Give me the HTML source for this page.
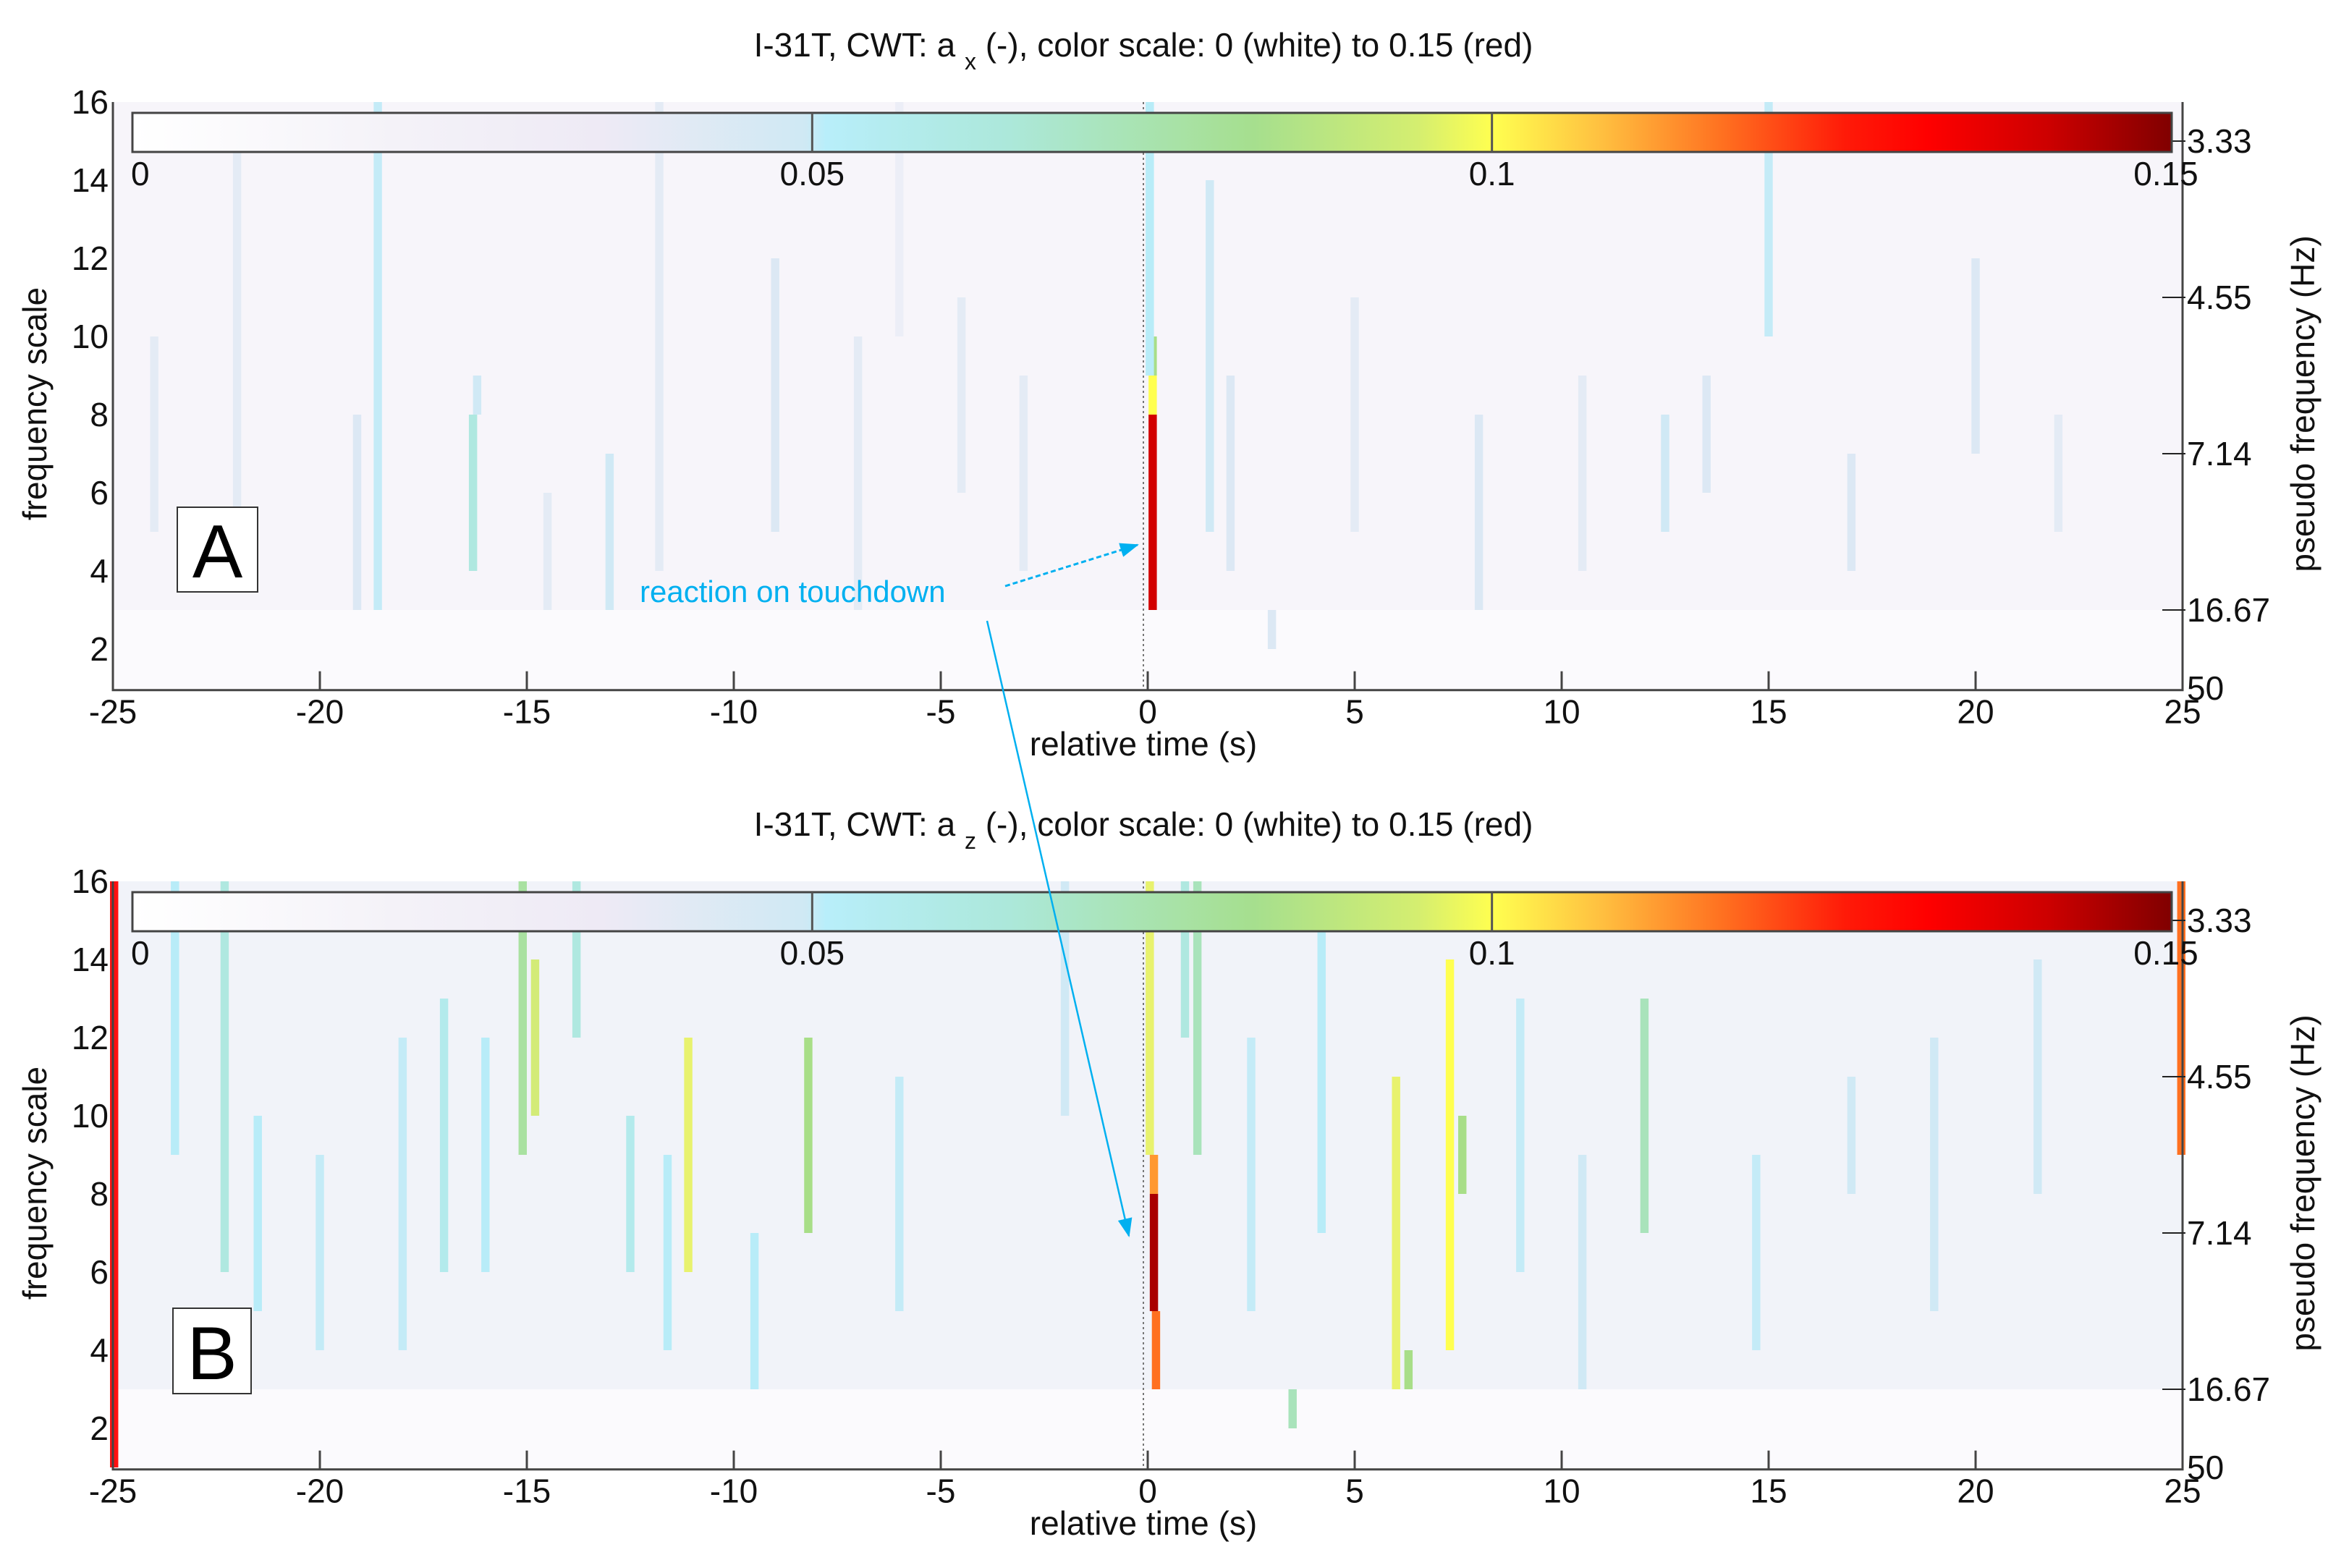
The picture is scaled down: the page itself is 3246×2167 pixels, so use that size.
<!DOCTYPE html>
<html><head><meta charset="utf-8"><style>
html,body{margin:0;padding:0;background:#fff;}
svg{display:block;font-family:"Liberation Sans",sans-serif;}
</style></head><body>
<svg id="fig" width="3246" height="2167" viewBox="0 0 3246 2167" xmlns="http://www.w3.org/2000/svg">
<defs>
<linearGradient id="cbar" x1="0" x2="1" y1="0" y2="0">
<stop offset="0" stop-color="#ffffff"/><stop offset="0.13" stop-color="#f4f2f8"/><stop offset="0.23" stop-color="#eeeaf5"/><stop offset="0.33" stop-color="#cfe9f4"/><stop offset="0.34" stop-color="#b8eefa"/><stop offset="0.43" stop-color="#ace8da"/><stop offset="0.55" stop-color="#a6df8e"/><stop offset="0.63" stop-color="#d4ee70"/><stop offset="0.667" stop-color="#ffff50"/><stop offset="0.72" stop-color="#ffc040"/><stop offset="0.78" stop-color="#ff7020"/><stop offset="0.84" stop-color="#ff1a08"/><stop offset="0.88" stop-color="#ff0000"/><stop offset="0.94" stop-color="#cc0000"/><stop offset="1" stop-color="#800000"/>
</linearGradient>
<marker id="arr" markerWidth="26" markerHeight="20" refX="24" refY="10" orient="auto" markerUnits="userSpaceOnUse" viewBox="0 0 26 20"><path d="M0,0 L26,10 L0,20 z" fill="#00b0f0"/></marker>
</defs>
</svg>
<script>
// ---- data ----
const xTicks = [-25,-20,-15,-10,-5,0,5,10,15,20,25];
const yTicks = [2,4,6,8,10,12,14,16];
const freqTickPos = [15,11,7,3,1];
const freqTickLabels = ["3.33","4.55","7.14","16.67","50"];
const cbarTicks = [0,0.05,0.1,0.15];
const cbarTickLabels = ["0","0.05","0.1","0.15"];
const titles = ["I-31T, CWT: a","I-31T, CWT: a"];
const subs = ["x","z"];
// streaks: time (s), lower scale, upper scale, value
const aTime = [-18.6,-22,-16.3,-16.2,-19.1,-13,-11.8,-9,-7,-3,0.12,0.12,0.12,0.05,2,5,8,12.5,15,17,20,22,-24,-14.5,-4.5,10.5,3,-6,1.5,13.5];
const aLow  = [3,4,4,8,3,3,4,5,3,4,3,8,9,9,4,5,3,5,10,4,7,5,5,3,6,4,2,10,5,6];
const aHigh = [16,15,8,9,8,7,16,12,10,9,8,9,10,16,9,11,8,8,16,7,12,8,10,6,11,9,3,16,14,9];
const aVal  = [0.045,0.03,0.06,0.04,0.035,0.04,0.03,0.035,0.03,0.03,0.14,0.1,0.08,0.05,0.035,0.03,0.035,0.04,0.045,0.035,0.035,0.03,0.03,0.03,0.03,0.03,0.035,0.025,0.04,0.035];
const bTime = [-24.97,24.97,-22.3,-21.5,-18,-17,-15.1,-14.8,-13.8,-11.1,-11.6,-8.2,-9.5,-6,0.15,0.15,0.05,0.2,1.2,2.5,3.5,6,6.3,7.3,7.6,9,12,14.7,17,19,21.5,-2,4.2,10.5,-20,-12.5,-23.5,0.9,-16];
const bLow  = [1,9,6,5,4,6,9,10,12,6,4,7,3,5,5,8,9,3,9,5,2,3,3,4,8,6,7,4,8,5,8,10,7,3,4,6,9,12,6];
const bHigh = [16,16,16,10,12,13,16,14,16,12,9,12,7,11,8,9,16,5,16,12,3,11,4,14,10,13,13,9,11,12,14,16,15,9,9,10,16,16,12];
const bVal  = [0.13,0.12,0.06,0.05,0.045,0.055,0.075,0.09,0.06,0.095,0.05,0.08,0.05,0.045,0.145,0.115,0.095,0.12,0.07,0.045,0.07,0.095,0.08,0.1,0.08,0.045,0.07,0.045,0.04,0.04,0.04,0.04,0.05,0.04,0.045,0.055,0.05,0.06,0.05];

// ---- layout ----
const NS="http://www.w3.org/2000/svg";
const svg=document.getElementById('fig');
const L=156,R=3016,TOP=141,UNIT=54,YMAX=16,YMIN=0.95;
const CELL=0.2;
function xs(t){return L+(t+25)/50*(R-L);}
function ys(v,off){return off+TOP+(YMAX-v)*UNIT;}
const stops=[[0,[255,255,255]],[0.02,[244,241,248]],[0.035,[220,232,244]],[0.05,[184,236,248]],[0.065,[170,230,212]],[0.08,[168,222,136]],[0.095,[232,242,110]],[0.1,[255,255,80]],[0.11,[255,192,64]],[0.12,[255,112,32]],[0.13,[255,16,16]],[0.14,[210,0,0]],[0.15,[128,0,0]]];
function cmap(v){v=Math.max(0,Math.min(0.15,v));for(let i=1;i<stops.length;i++){if(v<=stops[i][0]){const a=stops[i-1],b=stops[i];const f=(v-a[0])/(b[0]-a[0]);const c=a[1].map((x,k)=>Math.round(x+(b[1][k]-x)*f));return `rgb(${c[0]},${c[1]},${c[2]})`;}}return 'rgb(128,0,0)';}
function el(tag,attrs,parent){const e=document.createElementNS(NS,tag);for(const k in attrs)e.setAttribute(k,attrs[k]);(parent||svg).appendChild(e);return e;}
function txt(s,attrs,parent){const e=el('text',attrs,parent);e.textContent=s;return e;}

function panel(idx,off,times,lows,highs,vals,bg,letter,box){
  const g=el('g',{});
  
  
  const bottom=ys(YMIN,off), top=ys(YMAX,off);
  const bgr=el('rect',{x:L,y:top,width:R-L,height:bottom-top,fill:bg},g);
  
  
  const low=el('rect',{x:L,y:ys(3,off),width:R-L,height:bottom-ys(3,off),fill:'#fbfafd'},g);
  
  
  for(let i=0;i<times.length;i++){
    const x0=xs(times[i]-CELL/2),x1=xs(times[i]+CELL/2);
    const r=el('rect',{x:x0,y:ys(highs[i],off),width:x1-x0,height:ys(lows[i],off)-ys(highs[i],off),fill:cmap(vals[i])},g);
    
    
  }
  const zl=el('line',{x1:xs(0)-6,x2:xs(0)-6,y1:top,y2:bottom,stroke:'#777','stroke-width':2,'stroke-dasharray':'3,4'},g);
  
  
  const ax=el('path',{d:`M${L},${top} L${L},${bottom} L${R},${bottom} L${R},${top}`,fill:'none',stroke:'#444','stroke-width':3},g);
  
  
  xTicks.forEach(t=>{
    const x=xs(t);
    const tk=el('line',{x1:x,x2:x,y1:bottom,y2:bottom-26,stroke:'#444','stroke-width':3},g);
    
    
    const lb=txt(String(t),{x:x,y:bottom+46,'font-size':46,'text-anchor':'middle',fill:'#111'},g);
    
    
  });
  yTicks.forEach(v=>{
    const lb=txt(String(v),{x:L-6,y:ys(v,off)+16,'font-size':46,'text-anchor':'end',fill:'#111'},g);
    
    
  });
  freqTickPos.forEach((v,i)=>{
    const y=ys(v,off);
    if(i<freqTickPos.length-1){
      const tk=el('line',{x1:R-28,x2:R+4,y1:y,y2:y,stroke:'#222','stroke-width':2},g);
      
      
    }
    const lb=txt(freqTickLabels[i],{x:R+6,y:y+16,'font-size':46,fill:'#111'},g);
    
    
  });
  const cx0=183,cx1=3001,cy=off+156,ch=54;
  const cb=el('rect',{x:cx0,y:cy,width:cx1-cx0,height:ch,fill:'url(#cbar)',stroke:'#444','stroke-width':3},g);
  
  
  cbarTicks.forEach((v,i)=>{
    const x=cx0+v/0.15*(cx1-cx0);
    if(i>0&&i<cbarTicks.length-1){
      const d=el('line',{x1:x,x2:x,y1:cy,y2:cy+ch,stroke:'#555','stroke-width':3},g);
      
      
    }
    const lb=txt(cbarTickLabels[i],{x:i===0?x-2:(i===cbarTicks.length-1?x-8:x),y:cy+ch+46,'font-size':46,'text-anchor':i===0?'start':'middle',fill:'#111'},g);
    
    
  });
  const t=txt('',{x:1580,y:off+78,'font-size':46,'text-anchor':'middle',fill:'#111'},g);
  
  
  const t1=el('tspan',{},t);t1.textContent=titles[idx]+' ';
  const t2=el('tspan',{dy:18,'font-size':32},t);t2.textContent=subs[idx];
  const t3=el('tspan',{dy:-18},t);t3.textContent=' (-), color scale: 0 (white) to 0.15 (red)';
  const xl=txt('relative time (s)',{x:1580,y:off+1044,'font-size':46,'text-anchor':'middle',fill:'#111'},g);
  
  
  const yl=txt('frequency scale',{x:0,y:0,'font-size':46,'text-anchor':'middle',fill:'#111',transform:`translate(64,${off+558}) rotate(-90)`},g);
  
  
  const yr=txt('pseudo frequency (Hz)',{x:0,y:0,'font-size':46,'text-anchor':'middle',fill:'#111',transform:`translate(3198,${off+558}) rotate(-90)`},g);
  
  
  const bx=el('rect',{x:box[0],y:box[1],width:box[2],height:box[3],fill:'#fff',stroke:'#333','stroke-width':2},g);
  
  
  const lt=txt(letter,{x:box[0]+box[2]/2,y:box[1]+box[3]-20,'font-size':104,'text-anchor':'middle',fill:'#000'},g);
  
  
}
panel(0,0,aTime,aLow,aHigh,aVal,'#f7f5fa','A',[245,701,111,117]);
panel(1,1077,bTime,bLow,bHigh,bVal,'#f1f3f9','B',[239,1808,108,118]);

const an=txt('reaction on touchdown',{x:884,y:832,'font-size':42,fill:'#00b0f0'});


const a1=el('line',{x1:1389,y1:810,x2:1572,y2:753,stroke:'#00b0f0','stroke-width':3,'stroke-dasharray':'7,4','marker-end':'url(#arr)'});


const a2=el('line',{x1:1364,y1:858,x2:1560,y2:1708,stroke:'#00b0f0','stroke-width':2.5,'marker-end':'url(#arr)'});


</script>
</body></html>
